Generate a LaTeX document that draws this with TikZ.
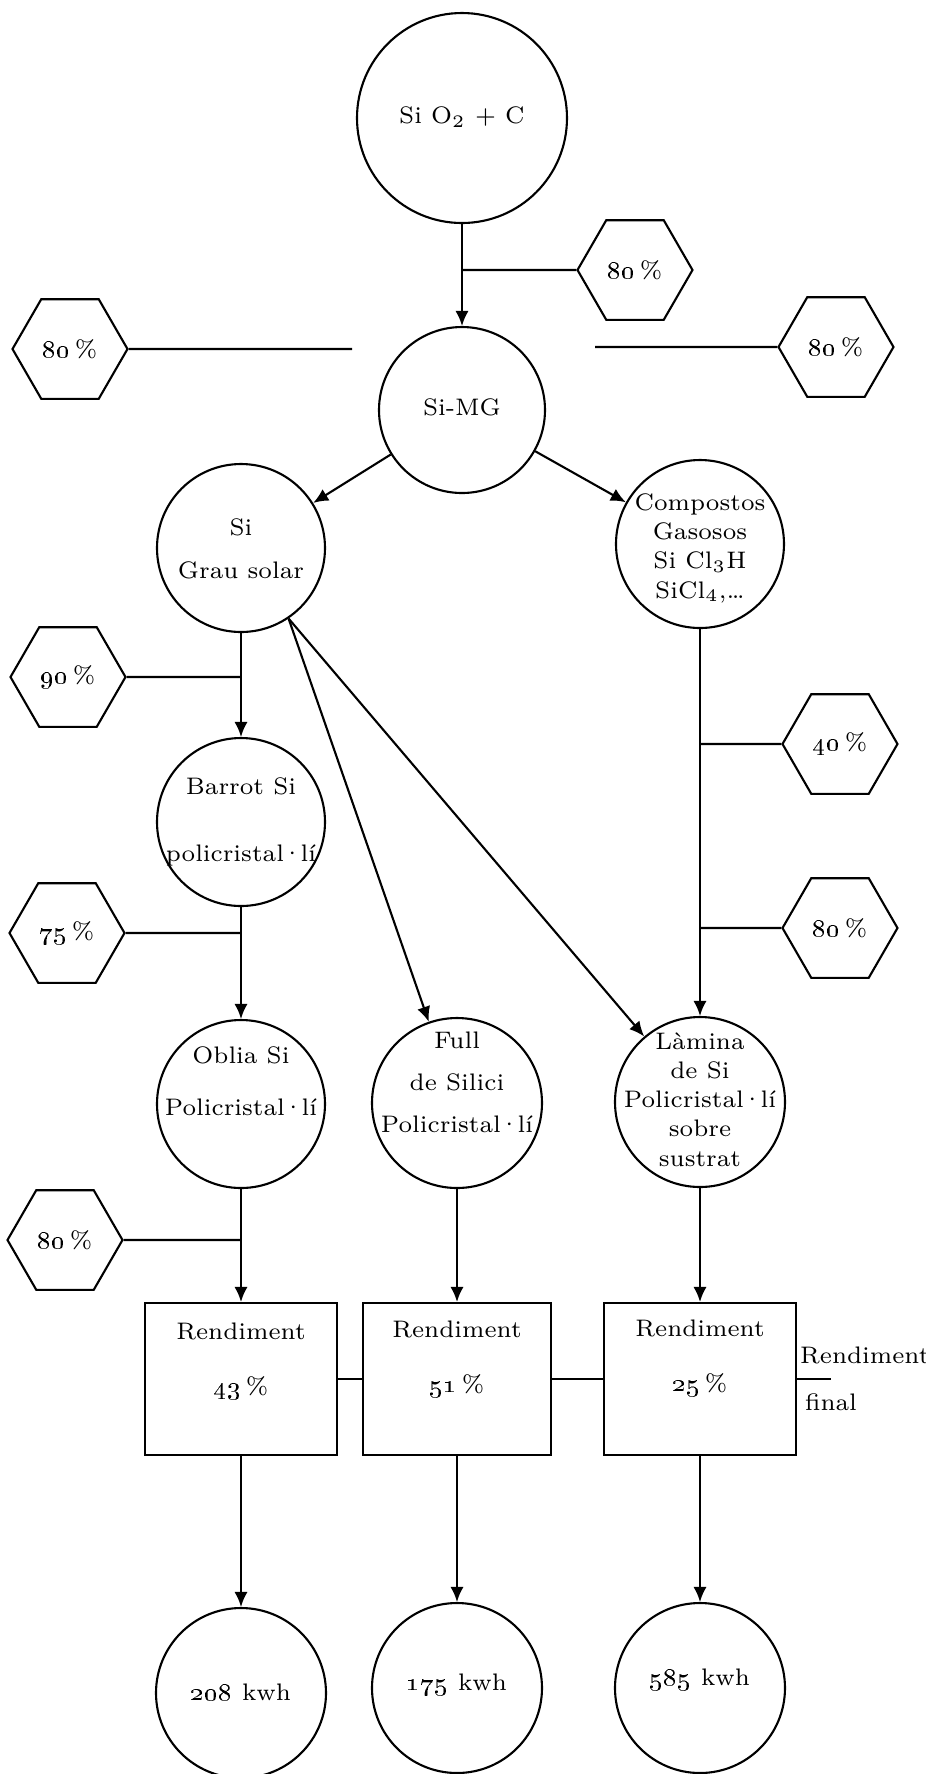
\documentclass[tikz,border=0pt]{standalone}
\usepackage{tikz}
\usetikzlibrary{arrows.meta}
\usetikzlibrary{shapes.geometric}
\tikzset{>={Latex[length=4.3pt,width=3.8pt]}}
\tikzstyle{circ} = [circle, draw, inner sep=0pt, minimum size=1.68cm]
\tikzstyle{hexa} = [regular polygon, regular polygon sides=6, draw, inner sep=0pt, minimum size=1.15cm]
\tikzstyle{rbox} = [rectangle, draw, inner sep=0pt, minimum width=1.92cm, minimum height=1.52cm]
\tikzstyle{lbl} = [inner sep=0pt, anchor=west]
\newcommand{\ctext}[2][-1.7pt]{\smash{\makebox[0pt]{\raisebox{#1}{\begin{tabular}{@{}c@{}}#2\end{tabular}}}}}
\newcommand{\pct}[1]{\oldstylenums{#1}\,\%}
\newcommand{\pv}{\kern-0.09em·\kern-0.09em}

\begin{document}
\begin{tikzpicture}[line width=0.6pt, font=\fontsize{6.8}{8.3}\selectfont]
\useasboundingbox (0, 0) rectangle (9.26, -17.74);

\node [circ, minimum size=2.10cm] (sio2) at (4.62, -1.18) {\ctext{Si O$_{2}$ + C}};
\node [circ, minimum size=1.66cm] (simg) at (4.62, -4.10) {\ctext{Si-MG}};
\node [hexa] (hextop) at (6.35, -2.70) {\pct{80}};
\node [hexa] (hexl) at (0.70, -3.49) {\pct{80}};
\node [hexa] (hexr) at (8.36, -3.47) {\pct{80}};
\coordinate (b1) at (4.62, -2.70);
\coordinate (ll) at (3.52, -3.49);
\coordinate (lr) at (5.95, -3.47);

\node [circ] (sigs) at (2.41, -5.48) {\ctext[-2.6pt]{Si\\[4pt]Grau solar}};
\node [circ] (comp) at (7.00, -5.44) {\ctext[-3pt]{Compostos\\Gasosos\\Si Cl$_{3}$H\\SiCl$_{4}$,\ldots}};

\node [hexa] (hex90) at (0.68, -6.77) {\pct{90}};
\coordinate (b2) at (2.41, -6.77);
\node [circ] (barrot) at (2.41, -8.22) {\ctext{Barrot Si\\[10.8pt]policristal\pv lí}};
\node [hexa] (hex75) at (0.67, -9.33) {\pct{75}};
\coordinate (b3) at (2.41, -9.33);

\node [hexa] (hex40) at (8.40, -7.44) {\pct{40}};
\node [hexa] (hex80b) at (8.40, -9.28) {\pct{80}};
\coordinate (b4) at (7.00, -7.44);
\coordinate (b5) at (7.00, -9.28);

\node [circ] (oblia) at (2.41, -11.04) {\ctext[4pt]{Oblia Si\\[6.5pt]Policristal\pv lí}};
\node [circ, minimum size=1.70cm] (full) at (4.57, -11.03) {\ctext[3.4pt]{Full\\[3.7pt]de Silici\\[3.7pt]Policristal\pv lí}};
\node [circ, minimum size=1.70cm] (lamina) at (7.00, -11.02) {\ctext{Làmina\\de Si\\Policristal\pv lí\\sobre\\sustrat}};
\node [hexa] (hex80c) at (0.65, -12.40) {\pct{80}};
\coordinate (b6) at (2.41, -12.40);

\node [rbox] (box1) at (2.41, -13.79) {\ctext[3.4pt]{Rendiment\\[7.4pt]\oldstylenums{43}\,\%}};
\node [rbox, minimum width=1.88cm] (box2) at (4.57, -13.79) {\ctext[3.8pt]{Rendiment\\[7.4pt]\oldstylenums{51}\,\%}};
\node [rbox] (box3) at (7.00, -13.79) {\ctext[4.3pt]{Rendiment\\[7.4pt]\oldstylenums{25}\,\%}};
\coordinate (fin) at (8.31, -13.79);
\node [lbl] (rfin) at (7.99, -13.55) {Rendiment};
\node [lbl] (rfinal) at (8.04, -14.02) {final};

\node [circ, minimum size=1.70cm] (kwh1) at (2.41, -16.93) {\ctext[-2.3pt]{\oldstylenums{208} kwh}};
\node [circ, minimum size=1.70cm] (kwh2) at (4.57, -16.88) {\ctext[-0.9pt]{\oldstylenums{175} kwh}};
\node [circ, minimum size=1.70cm] (kwh3) at (7.00, -16.88) {\ctext[0.6pt]{\oldstylenums{585} kwh}};

\draw [->] (sio2) to (simg);
\draw (b1) to (hextop);
\draw (hexl) to (ll);
\draw (lr) to (hexr);
\draw [->] (simg) to (sigs);
\draw [->] (simg) to (comp);
\draw [->] (sigs) to (barrot);
\draw (b2) to (hex90);
\draw [->] (sigs.-56) to (full);
\draw [->] (sigs.-56) to (lamina);
\draw [->] (barrot) to (oblia);
\draw (b3) to (hex75);
\draw [->] (comp) to (lamina);
\draw (b4) to (hex40);
\draw (b5) to (hex80b);
\draw [->] (oblia) to (box1);
\draw (b6) to (hex80c);
\draw [->] (full) to (box2);
\draw [->] (lamina) to (box3);
\draw (box1) to (box2);
\draw (box2) to (box3);
\draw (box3) to (fin);
\draw [->] (box1) to (kwh1);
\draw [->] (box2) to (kwh2);
\draw [->] (box3) to (kwh3);
\end{tikzpicture}
\end{document}
